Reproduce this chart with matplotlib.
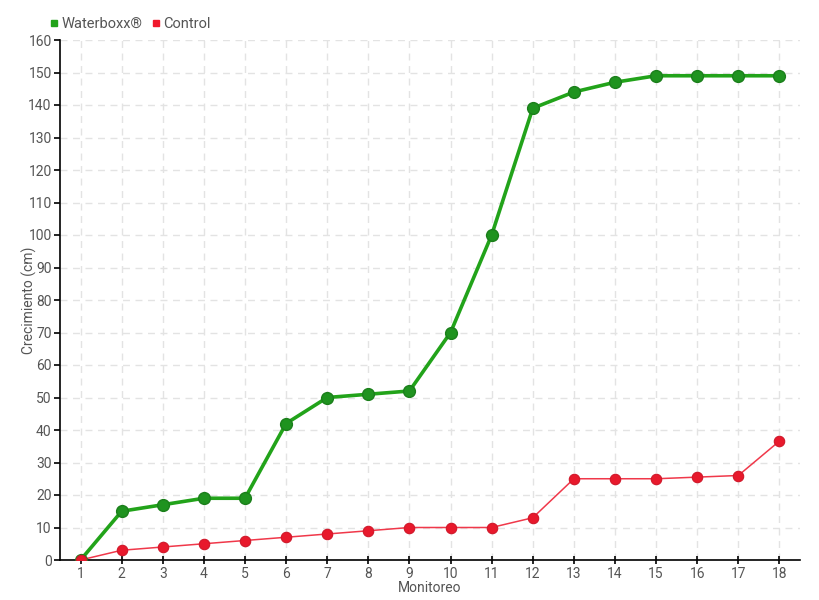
import matplotlib
matplotlib.use("Agg")
import matplotlib.pyplot as plt
from matplotlib.lines import Line2D

plt.rcParams['font.family'] = ['Roboto', 'DejaVu Sans']

monitoreo = list(range(1, 19))
waterboxx = [0, 15, 17, 19, 19, 42, 50, 51, 52, 70, 100, 139, 144, 147, 149, 149, 149, 149]
control = [0, 3, 4, 5, 6, 7, 8, 9, 10, 10, 10, 13, 25, 25, 25, 25.5, 26, 36.6]
yticks = list(range(0, 161, 10))

txt = '#555555'
green_line = '#22a31a'
green_mk = '#1f931f'
red_line = '#f0384a'
red_mk = '#e8192c'

fig = plt.figure(figsize=(8.2, 6.0), dpi=100)
ax = fig.add_axes([60/820, 1-560/600, 740/820, 520/600])

ax.plot(monitoreo, waterboxx, color=green_line, lw=2.6, zorder=3)
ax.plot(monitoreo, waterboxx, 'o', color=green_mk, mec='#1b7f1b', mew=1, ms=8.5, zorder=4)
ax.plot(monitoreo, control, color=red_line, lw=1.1, zorder=3)
ax.plot(monitoreo, control, 'o', color=red_mk, mec='#d0182a', mew=0.8, ms=7.5, zorder=5)

ax.set_xlim(0.5, 18.5)
ax.set_ylim(0, 160)
ax.set_xticks(monitoreo)
ax.set_yticks(yticks)
ax.grid(True, color='#e3e3e3', ls=(0, (5, 4)), lw=1)
ax.set_axisbelow(True)
for s in ['top', 'right']:
    ax.spines[s].set_visible(False)
for s in ['left', 'bottom']:
    ax.spines[s].set_color('black')
    ax.spines[s].set_linewidth(1.2)
ax.tick_params(axis='both', colors='black', labelcolor=txt, labelsize=10, length=4, width=1.2, pad=2)
ax.tick_params(axis='x', direction='inout', length=6)
ax.set_xlabel('Monitoreo', color=txt, fontsize=10, labelpad=0)
ax.set_ylabel('Crecimiento (cm)', color=txt, fontsize=10)
ax.yaxis.set_label_coords(-0.031, 0.5)

handles = [Line2D([], [], marker='s', ls='none', color='#22a31a', ms=5),
           Line2D([], [], marker='s', ls='none', color='#f0182c', ms=5)]
fig.legend(handles, ['Waterboxx®', 'Control'], loc='upper left', bbox_to_anchor=(44/820, 1-11/600),
           ncol=2, frameon=False, fontsize=10.5, handlelength=0.6, handletextpad=0.2,
           columnspacing=0.6, labelcolor=txt, borderaxespad=0)

fig.savefig('out.png', dpi=100)
